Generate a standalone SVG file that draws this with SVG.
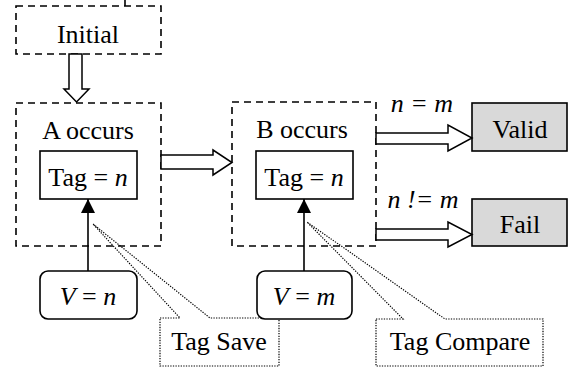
<svg xmlns="http://www.w3.org/2000/svg" width="570" height="367" viewBox="0 0 570 367">
<style>
.t{font-family:'Liberation Serif','Times New Roman',serif;font-size:26px;text-anchor:middle;fill:#000}
.i{font-style:italic}
.dash{fill:none;stroke:#000;stroke-width:1.6;stroke-dasharray:7,5}
.solid{fill:#fff;stroke:#000;stroke-width:1.6}
.gray{fill:#d9d9d9;stroke:#000;stroke-width:1.6}
.dot{fill:none;stroke:#000;stroke-width:1.2;stroke-dasharray:1.3,1.3}
.hollow{fill:#fff;stroke:#000;stroke-width:1.5}
.line{stroke:#000;stroke-width:1.6;fill:none}
</style>
<defs>
<marker id="ah" viewBox="0 0 14 14" refX="14" refY="7" markerWidth="14" markerHeight="14" markerUnits="userSpaceOnUse" orient="auto">
<path d="M0,0 L14,7 L0,14 Z" fill="#000"/>
</marker>
</defs>
<line class="line" x1="125" y1="0" x2="125" y2="6"/>
<g id="callouts">
<path class="dot" d="M160,318 H180 L93,224 L210,318 H279 V366 H160 Z"/>
<path class="dot" d="M376,319 H403 L307,222 L445,319 H543 V366 H376 Z"/>
</g>
<g id="initial">
<rect class="dash" x="16" y="6" width="145" height="48"/>
<text class="t" x="88" y="43">Initial</text>
</g>
<g id="stateA">
<rect class="dash" x="16" y="103" width="145" height="143"/>
<text class="t" x="88" y="139">A occurs</text>
<rect class="solid" x="40" y="151" width="97" height="48"/>
<text class="t" x="88" y="186">Tag = <tspan class="i">n</tspan></text>
</g>
<g id="stateB">
<rect class="dash" x="232" y="102" width="144" height="144"/>
<text class="t" x="302" y="138">B occurs</text>
<rect class="solid" x="256" y="151" width="97" height="48"/>
<text class="t" x="304" y="186">Tag = <tspan class="i">n</tspan></text>
</g>
<g id="valid">
<rect class="gray" x="472" y="103" width="95" height="48"/>
<text class="t" x="520" y="138">Valid</text>
</g>
<g id="fail">
<rect class="gray" x="472" y="199" width="95" height="47"/>
<text class="t" x="520" y="233">Fail</text>
</g>
<g id="connectors">
<polygon class="hollow" points="69,54 69,89 64,89 76.5,102 89,89 82,89 82,54"/>
<polygon class="hollow" points="161,155 213,155 213,150 232,162.5 213,175 213,169 161,169"/>
<polygon class="hollow" points="376,133 448,133 448,125 472,138 448,151 448,144 376,144"/>
<polygon class="hollow" points="376,229 448,229 448,222 472,234.5 448,247 448,240 376,240"/>
<line class="line" x1="88" y1="271" x2="88" y2="199" marker-end="url(#ah)"/>
<line class="line" x1="304" y1="271" x2="304" y2="199" marker-end="url(#ah)"/>
<text class="t i" x="422" y="112">n = m</text>
<text class="t i" x="423" y="208">n != m</text>
</g>
<g id="vn">
<rect class="solid" x="40" y="271" width="97" height="48" rx="8"/>
<text class="t" x="88" y="305"><tspan class="i">V</tspan> = <tspan class="i">n</tspan></text>
</g>
<g id="vm">
<rect class="solid" x="257" y="271" width="95" height="48" rx="8"/>
<text class="t" x="304" y="305"><tspan class="i">V</tspan> = <tspan class="i">m</tspan></text>
</g>
<g id="tagsave">
<text class="t" x="219" y="350">Tag Save</text>
</g>
<g id="tagcompare">
<text class="t" x="460" y="350">Tag Compare</text>
</g>
</svg>
